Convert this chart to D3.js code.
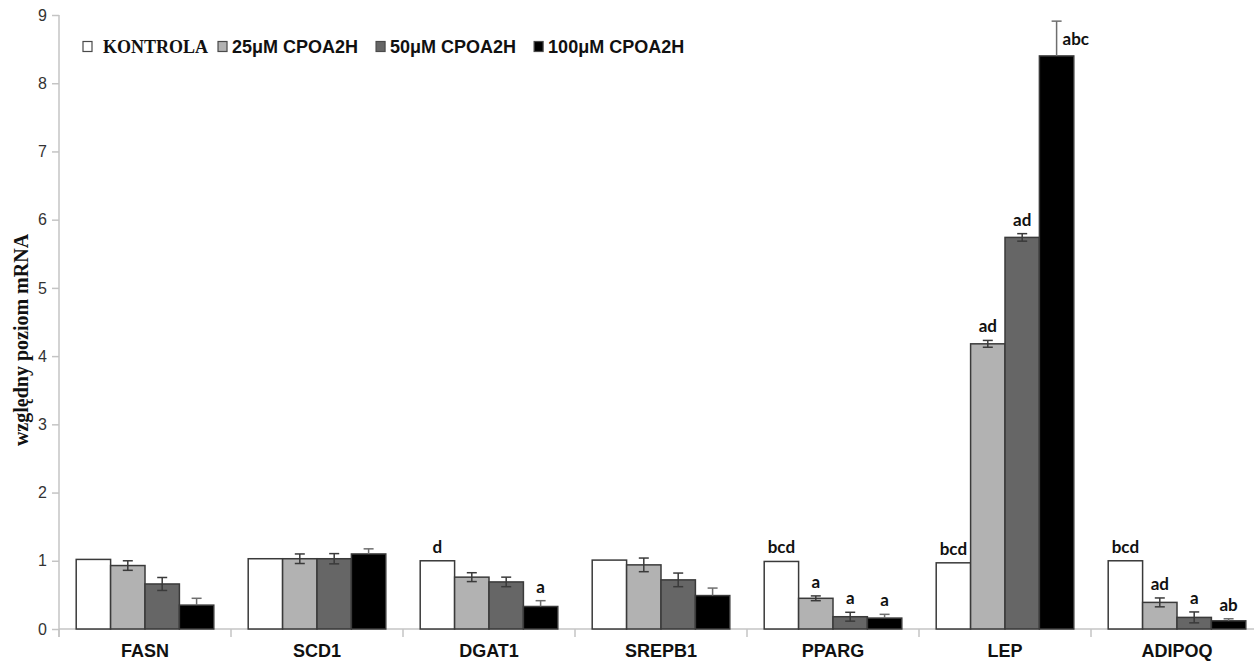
<!DOCTYPE html>
<html>
<head>
<meta charset="utf-8">
<script src="https://cdn.jsdelivr.net/npm/d3@7"></script>
<style>
  html, body { margin: 0; padding: 0; background: #ffffff; }
  svg { display: block; }
</style>
</head>
<body>
<svg id="chart" width="1254" height="661"></svg>
<script>
// Gene names on the x axis
const categories = ["FASN", "SCD1", "DGAT1", "SREPB1", "PPARG", "LEP", "ADIPOQ"];
// Treatment groups
const seriesNames = ["KONTROLA", "25μM CPOA2H", "50μM CPOA2H", "100μM CPOA2H"];

// Relative mRNA level per gene, one array per treatment
const kontrola = [1.02, 1.03, 1.00, 1.01, 0.99, 0.97, 1.00];
const cpoa25   = [0.93, 1.03, 0.76, 0.94, 0.45, 4.18, 0.39];
const cpoa50   = [0.66, 1.03, 0.69, 0.72, 0.18, 5.74, 0.17];
const cpoa100  = [0.35, 1.10, 0.33, 0.49, 0.16, 8.40, 0.12];

// Standard error per gene, one array per treatment
const errKontrola = [0, 0, 0, 0, 0, 0, 0];
const err25  = [0.07, 0.07, 0.065, 0.10, 0.035, 0.05, 0.065];
const err50  = [0.095, 0.075, 0.07, 0.10, 0.065, 0.055, 0.08];
const err100 = [0.10, 0.075, 0.085, 0.11, 0.055, 0.51, 0.03];

// Significance letters per gene, one array per treatment
const sigKontrola = ["", "", "d", "", "bcd", "bcd", "bcd"];
const sig25  = ["", "", "", "", "a", "ad", "ad"];
const sig50  = ["", "", "", "", "a", "ad", "a"];
const sig100 = ["", "", "a", "", "a", "abc", "ab"];

// Y axis tick values
const yTicks = [0, 1, 2, 3, 4, 5, 6, 7, 8, 9];

const values = [kontrola, cpoa25, cpoa50, cpoa100];
const errors = [errKontrola, err25, err50, err100];
const letters = [sigKontrola, sig25, sig50, sig100];
const fills = ["#ffffff", "#b2b2b2", "#666666", "#000000"];

const svg = d3.select("#chart");

const x0 = d3.scaleBand()
  .domain(categories)
  .range([59, 59 + 172 * 7])
  .paddingInner(0.2)
  .paddingOuter(0.1);

const x1 = d3.scaleBand()
  .domain(d3.range(seriesNames.length))
  .range([0, x0.bandwidth()])
  .padding(0);

const y = d3.scaleLinear().domain([0, 9]).range([629, 15]);

// Axis lines and tick marks
const axisColor = "#c4c4c4";
svg.append("line")
  .attr("x1", 59).attr("x2", 59)
  .attr("y1", y(9)).attr("y2", y(0) + 8)
  .attr("stroke", axisColor).attr("stroke-width", 1.5);
svg.append("line")
  .attr("x1", 59).attr("x2", 1254)
  .attr("y1", y(0)).attr("y2", y(0))
  .attr("stroke", axisColor).attr("stroke-width", 1.5);

// Y axis ticks and labels
const yAxis = d3.axisLeft(y).tickValues(yTicks).tickSize(7).tickPadding(5).tickFormat(d3.format("d"));
const gy = svg.append("g").attr("transform", "translate(59,0)").call(yAxis);
gy.select(".domain").remove();
gy.selectAll(".tick line").attr("stroke", axisColor).attr("stroke-width", 1.5);
gy.selectAll(".tick text")
  .attr("font-family", "'Liberation Sans', Arial, sans-serif")
  .attr("font-size", 16)
  .attr("fill", "#333333");

// Category divider ticks below the x axis
const dividers = d3.range(categories.length + 1).map(i => x0.step() * i + 59);
svg.selectAll("line.divider")
  .data(dividers)
  .join("line")
  .attr("class", "divider")
  .attr("x1", d => d).attr("x2", d => d)
  .attr("y1", y(0)).attr("y2", y(0) + 8)
  .attr("stroke", axisColor).attr("stroke-width", 1.5);

// Category labels
svg.selectAll("text.cat")
  .data(categories)
  .join("text")
  .attr("class", "cat")
  .attr("x", d => x0(d) + x0.bandwidth() / 2)
  .attr("y", 657)
  .attr("text-anchor", "middle")
  .attr("font-family", "'Liberation Sans', Arial, sans-serif")
  .attr("font-weight", "bold")
  .attr("font-size", 18)
  .attr("fill", "#111111")
  .text(d => d);

// Flatten bars
const bars = [];
categories.forEach((c, ci) => {
  values.forEach((arr, si) => {
    bars.push({ cat: c, s: si, v: arr[ci], e: errors[si][ci], sig: letters[si][ci] });
  });
});

const g = svg.append("g");

g.selectAll("rect.bar")
  .data(bars)
  .join("rect")
  .attr("class", "bar")
  .attr("x", d => x0(d.cat) + x1(d.s))
  .attr("y", d => y(d.v))
  .attr("width", x1.bandwidth())
  .attr("height", d => y(0) - y(d.v))
  .attr("fill", d => fills[d.s])
  .attr("stroke", "#3a3a3a")
  .attr("stroke-width", 1.5);

// Error bars (the lower whisker of a black bar disappears into the bar)
const withErr = bars.filter(d => d.e > 0);
const eg = g.selectAll("g.err").data(withErr).join("g").attr("class", "err");
const cx = d => x0(d.cat) + x1(d.s) + x1.bandwidth() / 2;
const isBlack = d => d.s === 3;
const errColor = d => isBlack(d) ? "#6e6e6e" : "#3a3a3a";
eg.append("line")
  .attr("x1", cx).attr("x2", cx)
  .attr("y1", d => y(d.v + d.e))
  .attr("y2", d => isBlack(d) ? y(d.v) : y(d.v - d.e))
  .attr("stroke", errColor).attr("stroke-width", 1.5);
eg.append("line")
  .attr("x1", d => cx(d) - 5).attr("x2", d => cx(d) + 5)
  .attr("y1", d => y(d.v + d.e)).attr("y2", d => y(d.v + d.e))
  .attr("stroke", errColor).attr("stroke-width", 1.5);
eg.filter(d => !isBlack(d) && y(d.v - d.e) < y(0))
  .append("line")
  .attr("x1", d => cx(d) - 5).attr("x2", d => cx(d) + 5)
  .attr("y1", d => y(d.v - d.e)).attr("y2", d => y(d.v - d.e))
  .attr("stroke", errColor).attr("stroke-width", 1.5);

// Significance letters: above the whisker, or beside it when there is no room above
g.selectAll("text.sig")
  .data(bars.filter(d => d.sig))
  .join("text")
  .attr("class", "sig")
  .each(function (d) {
    const top = y(d.v + d.e);
    const t = d3.select(this);
    if (top - 14 < y(9)) {
      t.attr("x", cx(d) + 6).attr("y", top + 24).attr("text-anchor", "start");
    } else {
      t.attr("x", cx(d)).attr("y", top - 8).attr("text-anchor", "middle");
    }
  })
  .attr("font-family", "Lato, 'Open Sans', sans-serif")
  .attr("font-weight", "bold")
  .attr("font-size", 17)
  .attr("fill", "#111111")
  .text(d => d.sig);

// Y axis title
svg.append("text")
  .attr("transform", "translate(28,340) rotate(-90)")
  .attr("text-anchor", "middle")
  .attr("font-family", "'Liberation Serif', 'Times New Roman', serif")
  .attr("font-weight", "bold")
  .attr("font-size", 20)
  .attr("fill", "#111111")
  .text("względny poziom mRNA");

// Legend
const legend = svg.append("g");
let lx = 83;
seriesNames.forEach((name, i) => {
  legend.append("rect")
    .attr("x", lx).attr("y", 41.5)
    .attr("width", 9).attr("height", 10)
    .attr("fill", fills[i])
    .attr("stroke", "#4a4a4a").attr("stroke-width", 1.2);
  const serif = i === 0;
  const tx = lx + (serif ? 20 : 14);
  const t = legend.append("text")
    .attr("x", tx).attr("y", 53)
    .attr("font-family", serif ? "'Liberation Serif', 'Times New Roman', serif" : "'Liberation Sans', Arial, sans-serif")
    .attr("font-weight", "bold")
    .attr("font-size", serif ? 18 : 18)
    .attr("fill", "#111111")
    .text(name);
  lx = tx + t.node().getComputedTextLength() + (serif ? 10 : 18);
});
</script>
</body>
</html>
